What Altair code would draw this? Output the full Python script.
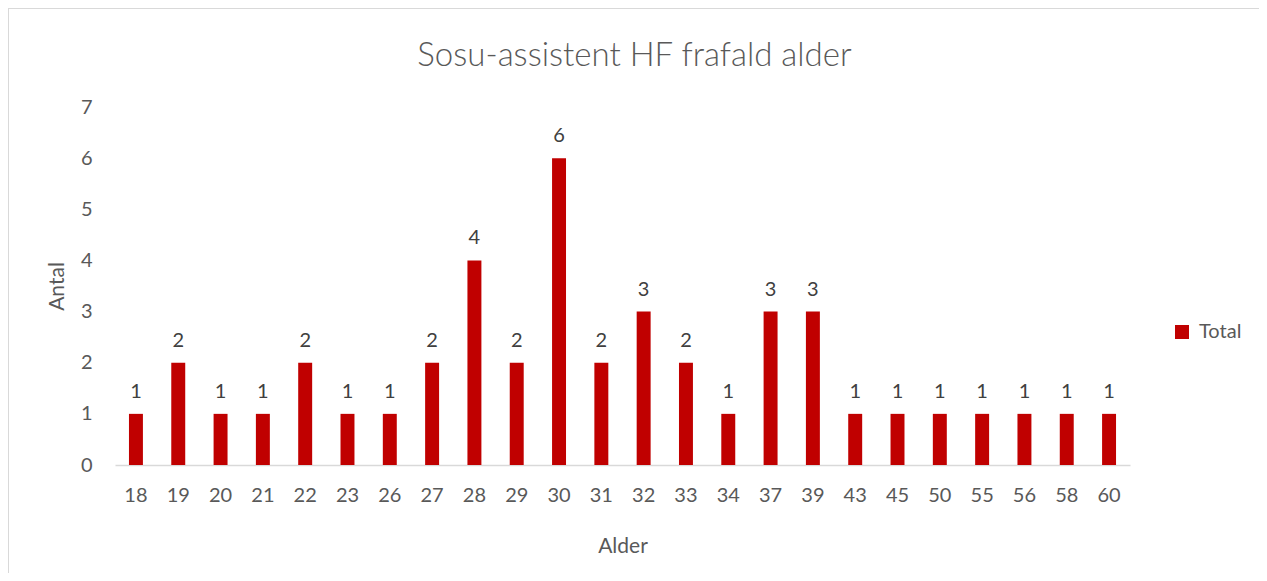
import altair as alt
import pandas as pd

ages = ["18", "19", "20", "21", "22", "23", "26", "27", "28", "29", "30", "31",
        "32", "33", "34", "37", "39", "43", "45", "50", "55", "56", "58", "60"]
counts = [1, 2, 1, 1, 2, 1, 1, 2, 4, 2, 6, 2, 3, 2, 1, 3, 3, 1, 1, 1, 1, 1, 1, 1]
series = ["Total"] * len(ages)
title_text = "Sosu-assistent HF frafald alder"

df = pd.DataFrame({"Alder": ages, "Antal": counts, "Serie": series})

FONT = "Lato"
GRAY = "#595959"
W, H = 1015, 358

base = alt.Chart(df)

x_enc = alt.X("Alder:N", sort=ages,
              scale=alt.Scale(paddingInner=0.67, paddingOuter=0.33),
              axis=alt.Axis(title="Alder", labelAngle=0, labelFontSize=20, labelColor=GRAY,
                            labelFont=FONT, ticks=False, domainColor="#D9D9D9", domainWidth=1.5,
                            labelPadding=20, titleFontSize=21, titleFont=FONT, titleColor=GRAY,
                            titleFontWeight="normal", titlePadding=30))
y_enc = alt.Y("Antal:Q", scale=alt.Scale(domain=[0, 7]),
              axis=alt.Axis(title="Antal", values=list(range(8)), grid=False, domain=False,
                            ticks=False, labelFontSize=20, labelColor=GRAY, labelFont=FONT,
                            labelPadding=23, titleFontSize=21, titleFont=FONT, titleColor=GRAY,
                            titleFontWeight="normal", titlePadding=13))

bars = base.mark_bar(color="#C00000").encode(
    x=x_enc, y=y_enc,
    color=alt.Color("Serie:N", scale=alt.Scale(range=["#C00000"]),
                    legend=alt.Legend(title=None, orient="none", legendX=1057, legendY=215,
                                      symbolType="square", symbolSize=196, symbolStrokeWidth=0,
                                      labelFontSize=20, labelColor=GRAY, labelFont=FONT,
                                      labelOffset=7)),
)

labels = base.mark_text(baseline="bottom", dy=-12, fontSize=20, font=FONT, color="#404040").encode(
    x=alt.X("Alder:N", sort=ages), y="Antal:Q", text="Antal:Q")

title = alt.Chart(pd.DataFrame({"t": [title_text]})).mark_text(
    fontSize=33, font=FONT, fontWeight=300, color=GRAY, baseline="middle", align="center").encode(
    x=alt.value(W / 2 + 12), y=alt.value(-51), text="t:N")

border_top = base.mark_rule(color="#D9D9D9", strokeWidth=2).encode(
    x=alt.value(-107), x2=alt.value(W + 140), y=alt.value(-99))
border_left = base.mark_rule(color="#D9D9D9", strokeWidth=2).encode(
    x=alt.value(-107), y=alt.value(-99), y2=alt.value(H + 120))

chart = alt.layer(border_top, border_left, bars, labels, title).properties(
    width=W, height=H,
    background="white",
    autosize=alt.AutoSizeParams(type="none"),
    padding={"left": 107, "top": 99, "right": 129, "bottom": 108},
).configure_view(strokeWidth=0)

chart.save("out.html", embed_options={"renderer": "svg", "actions": False})
